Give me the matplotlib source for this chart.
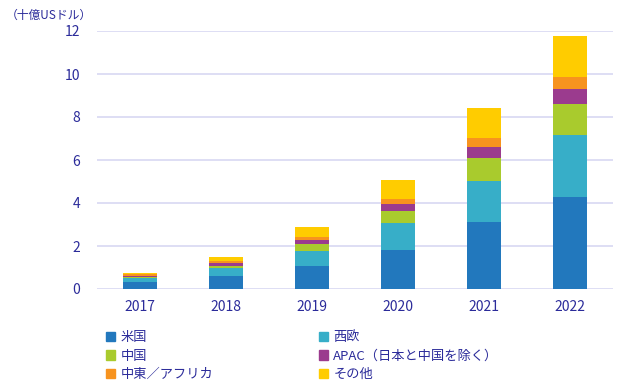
import matplotlib
matplotlib.use("Agg")
import matplotlib.pyplot as plt
from matplotlib.patches import Patch
import numpy as np

plt.rcParams['font.family'] = ['Noto Sans CJK JP', 'DejaVu Sans']

# ---------------- data ----------------
years = ["2017", "2018", "2019", "2020", "2021", "2022"]
series_names = ["米国", "西欧", "中国", "APAC（日本と中国を除く）", "中東／アフリカ", "その他"]
us = [0.33, 0.62, 1.08, 1.83, 3.10, 4.26]
w_europe = [0.18, 0.34, 0.69, 1.23, 1.94, 2.92]
china = [0.06, 0.12, 0.31, 0.55, 1.07, 1.42]
apac = [0.03, 0.14, 0.20, 0.34, 0.51, 0.69]
mea = [0.08, 0.10, 0.15, 0.25, 0.42, 0.58]
other = [0.05, 0.17, 0.44, 0.87, 1.36, 1.90]
colors = ["#2278bd", "#37aec8", "#a9cb2d", "#9b3b8e", "#f7931e", "#ffcc00"]

TXT = "#2b2b9a"
GRID = "#d8d8f2"

fig = plt.figure(figsize=(6.2, 3.89), dpi=100)
ax = fig.add_axes([97 / 620, 1 - 289 / 389, 516 / 620, 258 / 389])

x = np.arange(len(years))
bottom = np.zeros(len(years))
for vals, name, c in zip([us, w_europe, china, apac, mea, other], series_names, colors):
    ax.bar(x, vals, width=0.4, bottom=bottom, color=c, label=name, zorder=3)
    bottom += np.array(vals)

ax.set_ylim(0, 12)
ax.set_xlim(-0.5, 5.5)
ax.set_yticks(range(0, 13, 2))
ax.set_xticks(x)
ax.set_xticklabels(years)
ax.grid(axis="y", color=GRID, linewidth=1.2, zorder=0)
for s in ax.spines.values():
    s.set_visible(False)
ax.tick_params(axis="both", length=0, colors=TXT, labelsize=10)
ax.tick_params(axis="y", pad=12)
ax.tick_params(axis="x", pad=8)

fig.text(6 / 620, 1 - 15 / 389, "（十億USドル）", color=TXT, fontsize=8.5, va="center", ha="left")

# legend: matplotlib fills column-wise, so reorder
handles = [Patch(color=c) for c in colors]
order = [0, 2, 4, 1, 3, 5]
leg = fig.legend([handles[i] for i in order], [series_names[i] for i in order],
                 ncol=2, loc="upper left", bbox_to_anchor=(106 / 620, 1 - 331 / 389),
                 frameon=False, fontsize=9.5, handlelength=0.7, handleheight=0.7,
                 handletextpad=0.4, labelspacing=0.42, columnspacing=8.0,
                 borderpad=0, borderaxespad=0)
for t in leg.get_texts():
    t.set_color(TXT)

fig.savefig("out.png", dpi=100)
